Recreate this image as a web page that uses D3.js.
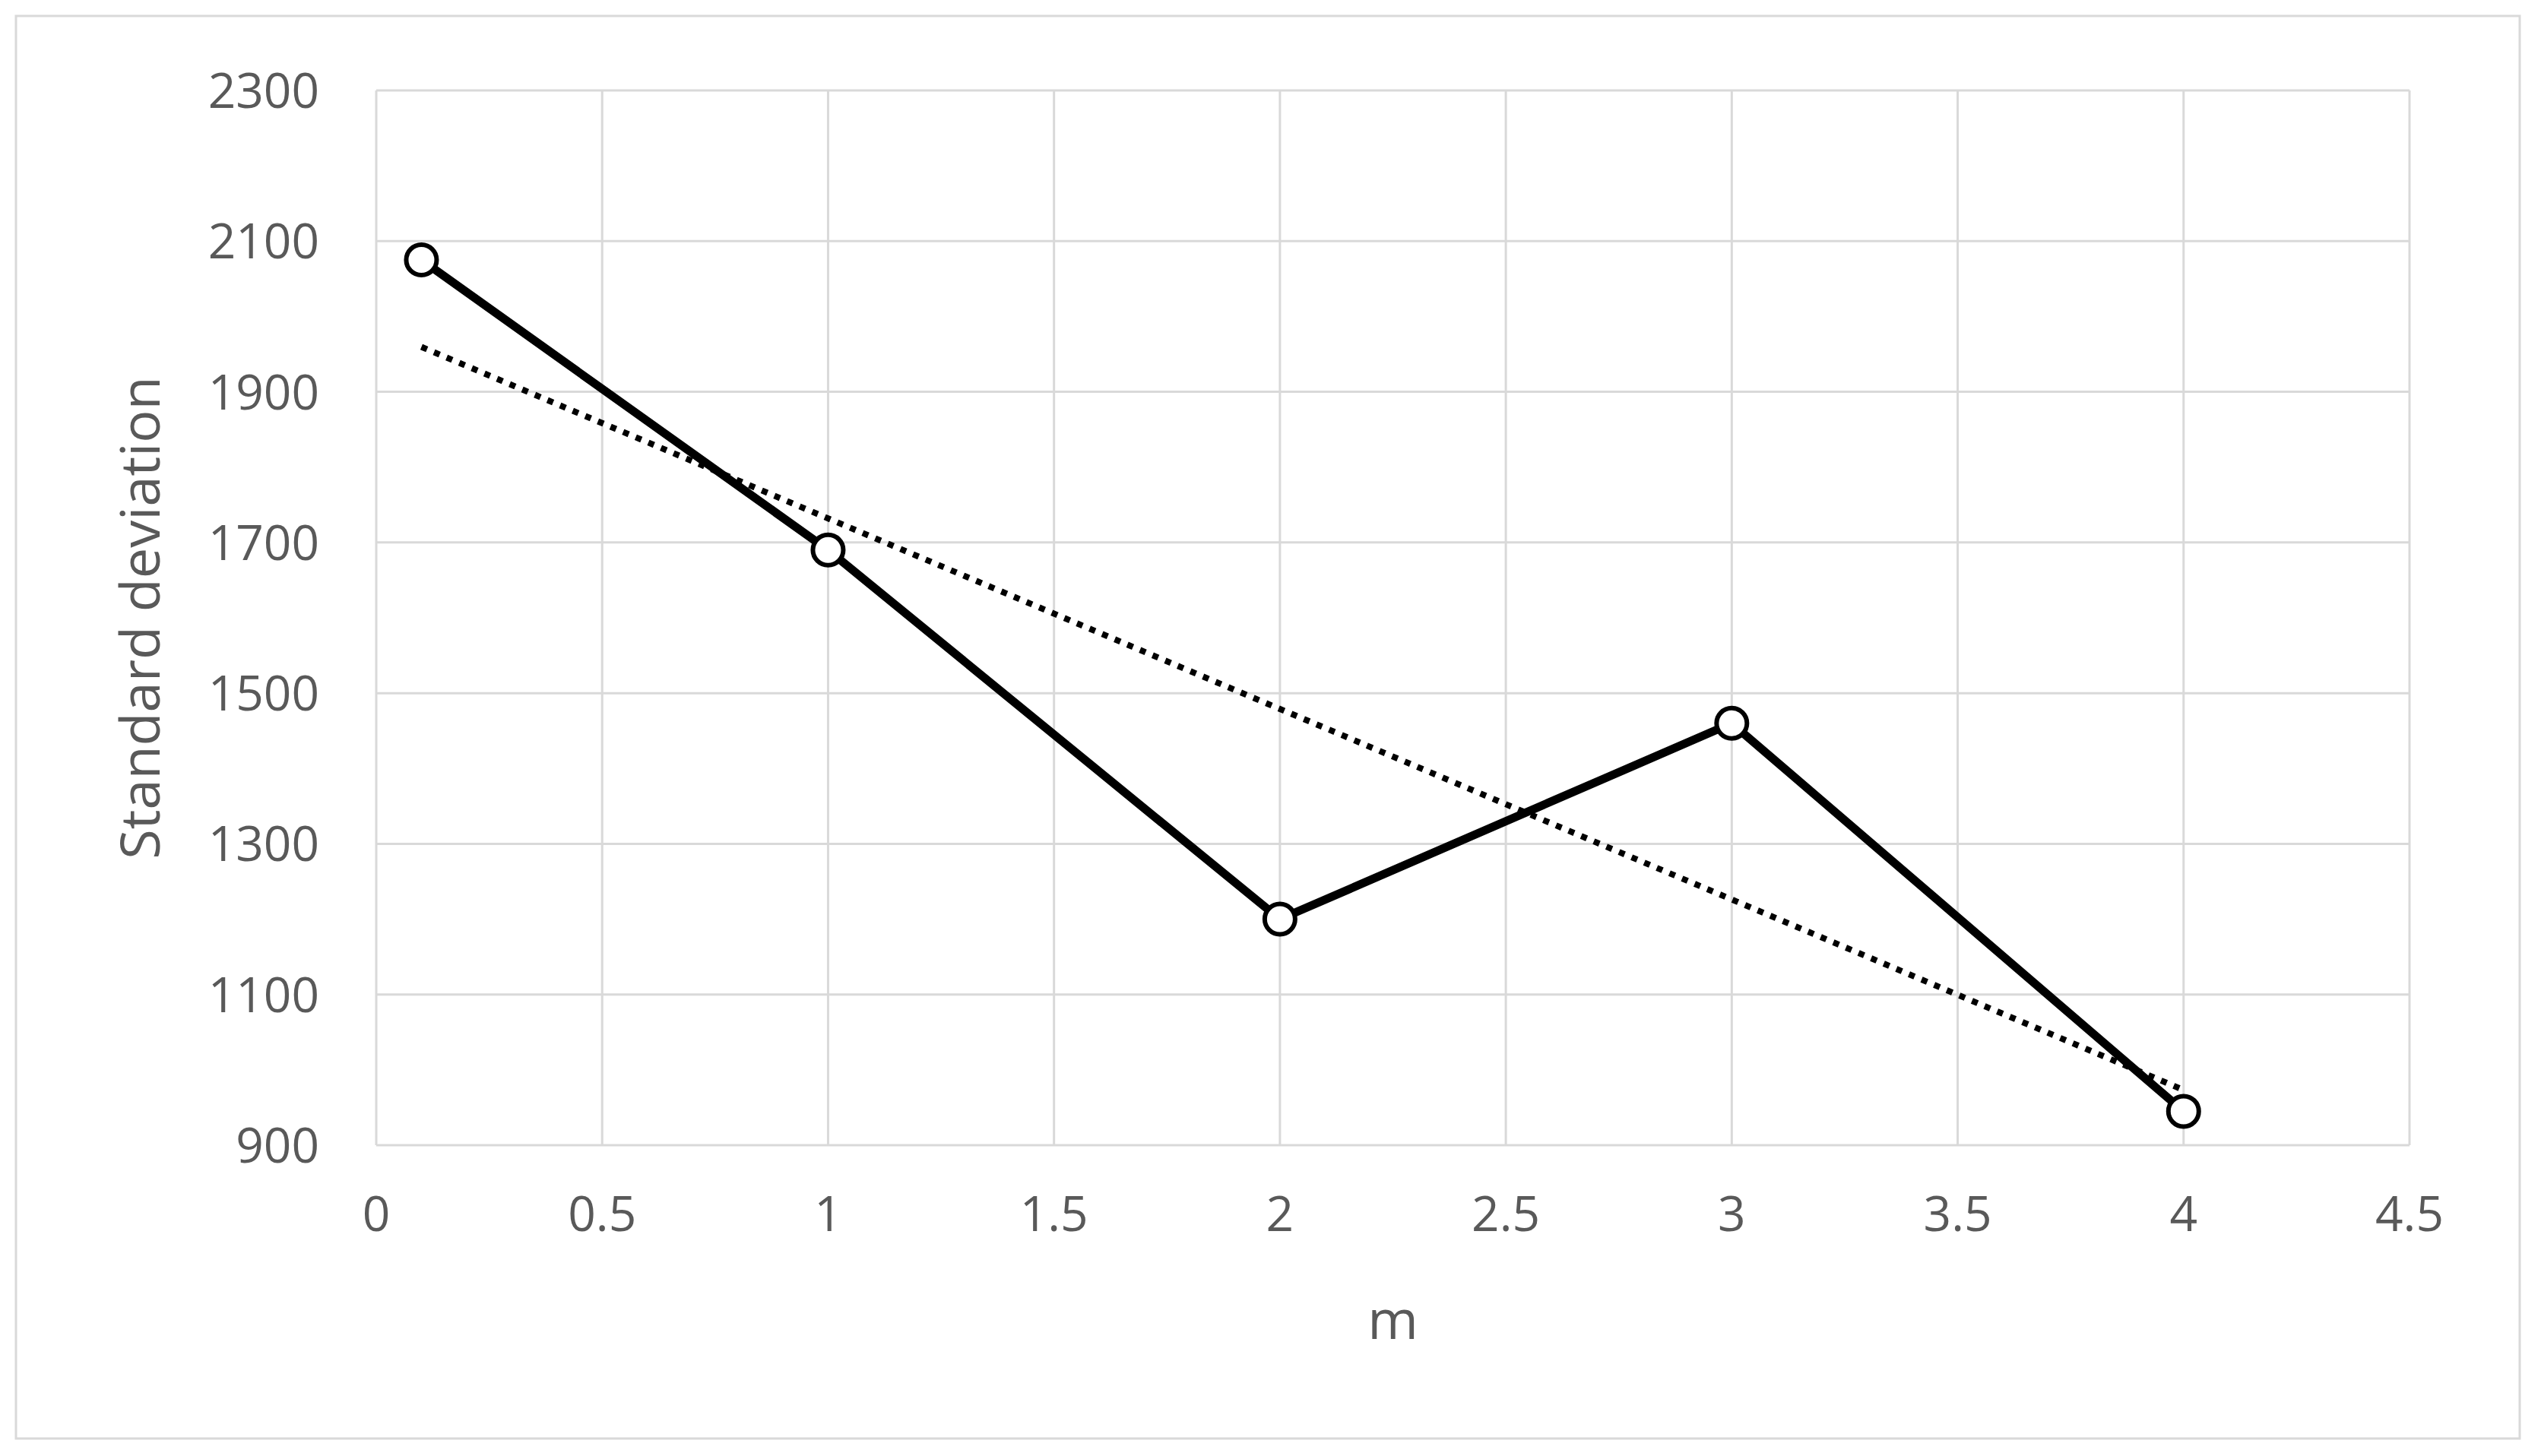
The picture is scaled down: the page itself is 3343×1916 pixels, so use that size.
<!DOCTYPE html>
<html><head><meta charset="utf-8">
<script src="https://cdn.jsdelivr.net/npm/d3@7"></script>
<style>body{margin:0;background:#fff}</style></head>
<body><svg id="c" width="3343" height="1916"></svg>
<script>
const xValues=[0.1,1,2,3,4];
const sdValues=[2075,1690,1200,1460,945];
const xTicks=[0,0.5,1,1.5,2,2.5,3,3.5,4,4.5];
const yTicks=[900,1100,1300,1500,1700,1900,2100,2300];
const W=3343,H=1916,L=495,R=3170,T=119,B=1507;
const svg=d3.select("#c");
svg.append("rect").attr("x",21).attr("y",21).attr("width",3294).attr("height",1872).attr("fill","#fff").attr("stroke","#d9d9d9").attr("stroke-width",3);
const x=d3.scaleLinear().domain([0,4.5]).range([L,R]);
const y=d3.scaleLinear().domain([900,2300]).range([B,T]);
const font="'Open Sans','Noto Sans',sans-serif";
svg.append("g").selectAll("line").data(xTicks).join("line").attr("x1",d=>x(d)).attr("x2",d=>x(d)).attr("y1",T).attr("y2",B).attr("stroke","#d9d9d9").attr("stroke-width",3);
svg.append("g").selectAll("line").data(yTicks).join("line").attr("x1",L).attr("x2",R).attr("y1",d=>y(d)).attr("y2",d=>y(d)).attr("stroke","#d9d9d9").attr("stroke-width",3);
svg.append("g").selectAll("text").data(xTicks).join("text").attr("x",d=>x(d)).attr("y",B+113).attr("text-anchor","middle").attr("font-family",font).attr("font-size",64).attr("fill","#595959").text(d=>d);
svg.append("g").selectAll("text").data(yTicks).join("text").attr("x",L-75).attr("y",d=>y(d)+23).attr("text-anchor","end").attr("font-family",font).attr("font-size",64).attr("fill","#595959").text(d=>d);
svg.append("text").attr("x",(L+R)/2).attr("y",1762).attr("text-anchor","middle").attr("font-family",font).attr("font-size",72).attr("fill","#595959").text("m");
svg.append("text").attr("transform",`translate(210,${(T+B)/2}) rotate(-90)`).attr("text-anchor","middle").attr("font-family",font).attr("font-size",72).attr("fill","#595959").text("Standard deviation");
// linear trendline (least squares)
const mx=d3.mean(xValues),my=d3.mean(sdValues);
const slope=d3.sum(xValues.map((v,i)=>(v-mx)*(sdValues[i]-my)))/d3.sum(xValues.map(v=>(v-mx)**2));
const tr=[xValues[0],xValues[xValues.length-1]].map(v=>[v,my+slope*(v-mx)]);
svg.append("line").attr("x1",x(tr[0][0])).attr("y1",y(tr[0][1])).attr("x2",x(tr[1][0])).attr("y2",y(tr[1][1])).attr("stroke","#000").attr("stroke-width",8).attr("stroke-dasharray","8 10");
const pts=xValues.map((v,i)=>[v,sdValues[i]]);
svg.append("path").attr("d",d3.line().x(d=>x(d[0])).y(d=>y(d[1]))(pts)).attr("fill","none").attr("stroke","#000").attr("stroke-width",11).attr("stroke-linejoin","round");
svg.append("g").selectAll("circle").data(pts).join("circle").attr("cx",d=>x(d[0])).attr("cy",d=>y(d[1])).attr("r",20).attr("fill","#fff").attr("stroke","#000").attr("stroke-width",6);
</script></body></html>
